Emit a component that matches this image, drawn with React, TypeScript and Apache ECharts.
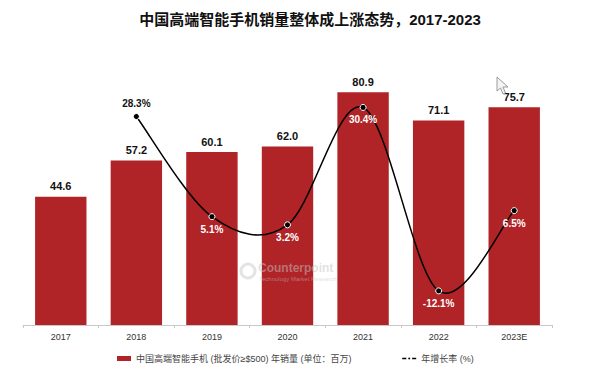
import React, { useEffect, useRef } from "react";
import * as echarts from "echarts";

const years = ["2017", "2018", "2019", "2020", "2021", "2022", "2023E"];
const sales = [44.6, 57.2, 60.1, 62.0, 80.9, 71.1, 75.7];
const growth: (number | null)[] = [null, 28.3, 5.1, 3.2, 30.4, -12.1, 6.5];
const barName = "中国高端智能手机 (批发价≥$500) 年销量 (单位：百万)";
const lineName = "年增长率 (%)";
const titleText = "中国高端智能手机销量整体成上涨态势，2017-2023";

export default function App() {
  const ref = useRef<HTMLDivElement>(null);
  useEffect(() => {
    const chart = echarts.init(ref.current!, null, { renderer: "svg" });
    const font = "'Liberation Sans', 'Noto Sans CJK SC', sans-serif";
    const valid = growth
      .map((v, i) => (v === null ? null : i))
      .filter((i) => i !== null) as number[];
    const segData = valid.slice(0, -1).map((i) => [i, growth[i]]);

    chart.setOption({
      animation: false,
      backgroundColor: "#ffffff",
      textStyle: { fontFamily: font },
      title: {
        text: titleText,
        left: 305,
        textAlign: "center",
        top: 7,
        textStyle: { fontSize: 15, fontWeight: "bold", color: "#111", fontFamily: font },
      },
      legend: {
        left: 112,
        top: 349,
        itemGap: 50,
        itemWidth: 14,
        itemHeight: 5,
        textStyle: { fontSize: 9, color: "#444", fontFamily: font },
        data: [
          { name: barName, icon: "rect" },
          { name: lineName, lineStyle: { color: "#000", width: 1.5, opacity: 1 } },
        ],
      },
      grid: { left: 23, right: 40, top: 66, bottom: 52 },
      xAxis: {
        type: "category",
        data: years,
        axisLine: { lineStyle: { color: "#c8c8c8" } },
        axisTick: { show: true, length: 3, lineStyle: { color: "#c8c8c8" } },
        axisLabel: { fontSize: 9, color: "#333", margin: 7 },
      },
      yAxis: [
        { type: "value", min: 0, max: 90, interval: 15, show: false, splitLine: { show: false } },
        { type: "value", min: -20, max: 40, interval: 10, show: false, splitLine: { show: false } },
      ],
      graphic: [
        {
          type: "circle",
          shape: { cx: 248, cy: 271, r: 7 },
          style: { fill: "none", stroke: "rgba(205,205,205,0.55)", lineWidth: 3 },
          z: 3,
        },
        {
          type: "text",
          x: 258,
          y: 262,
          style: { text: "Counterpoint", fontSize: 12, fontWeight: "bold", fill: "rgba(195,195,195,0.5)", fontFamily: font },
          z: 3,
        },
        {
          type: "text",
          x: 259,
          y: 276,
          style: { text: "Technology Market Research", fontSize: 6, fill: "rgba(195,195,195,0.5)", fontFamily: font },
          z: 3,
        },
        {
          type: "polygon",
          shape: {
            points: [
              [497, 77], [497, 91], [500.5, 88], [503, 94], [505.5, 93], [503, 87], [508, 87],
            ],
          },
          style: { fill: "#f4f4f4", stroke: "#9a9a9a", lineWidth: 1 },
          z: 3,
        },
      ],
      series: [
        {
          name: barName,
          type: "bar",
          data: sales,
          barWidth: "68%",
          itemStyle: { color: "#B02326" },
          z: 2,
          label: {
            show: true,
            position: "top",
            distance: 5,
            fontSize: 11,
            fontWeight: "bold",
            color: "#111",
            formatter: (p: any) => p.value.toFixed(1),
          },
        },
        {
          name: "smoothCurve",
          type: "custom",
          yAxisIndex: 1,
          z: 4,
          silent: true,
          data: segData,
          encode: { x: 0, y: 1 },
          renderItem: (params: any, api: any) => {
            const idx = api.value(0) as number;
            const k = valid.indexOf(idx);
            const i0 = valid[Math.max(0, k - 1)];
            const i1 = valid[k];
            const i2 = valid[k + 1];
            const i3 = valid[Math.min(valid.length - 1, k + 2)];
            const P0 = api.coord([i0, growth[i0]]);
            const P1 = api.coord([i1, growth[i1]]);
            const P2 = api.coord([i2, growth[i2]]);
            const P3 = api.coord([i3, growth[i3]]);
            const c1 = [P1[0] + (P2[0] - P0[0]) / 6, P1[1] + (P2[1] - P0[1]) / 6];
            const c2 = [P2[0] - (P3[0] - P1[0]) / 6, P2[1] - (P3[1] - P1[1]) / 6];
            const d = `M${P1[0]},${P1[1]} C${c1[0]},${c1[1]} ${c2[0]},${c2[1]} ${P2[0]},${P2[1]}`;
            return {
              type: "path",
              shape: { pathData: d },
              style: { fill: "none", stroke: "#000", lineWidth: 1.5 },
            };
          },
        },
        {
          name: lineName,
          type: "line",
          yAxisIndex: 1,
          data: growth.map((v, i) =>
            i === 1
              ? { value: v, label: { position: "top", color: "#111", distance: 5 } }
              : v
          ),
          symbol: "circle",
          symbolSize: 6,
          itemStyle: { color: "#000", borderColor: "#fff", borderWidth: 1 },
          lineStyle: { color: "#000", width: 1.5, opacity: 0 },
          z: 5,
          label: {
            show: true,
            position: "bottom",
            distance: 4,
            fontSize: 10,
            fontWeight: "bold",
            color: "#fff",
            formatter: (p: any) => (typeof p.value === "number" ? p.value.toFixed(1) + "%" : ""),
          },
        },
      ],
    });
    return () => chart.dispose();
  }, []);
  return (
    <div
      ref={ref}
      style={{ position: "fixed", left: 0, top: 0, width: 592, height: 377 }}
    />
  );
}
